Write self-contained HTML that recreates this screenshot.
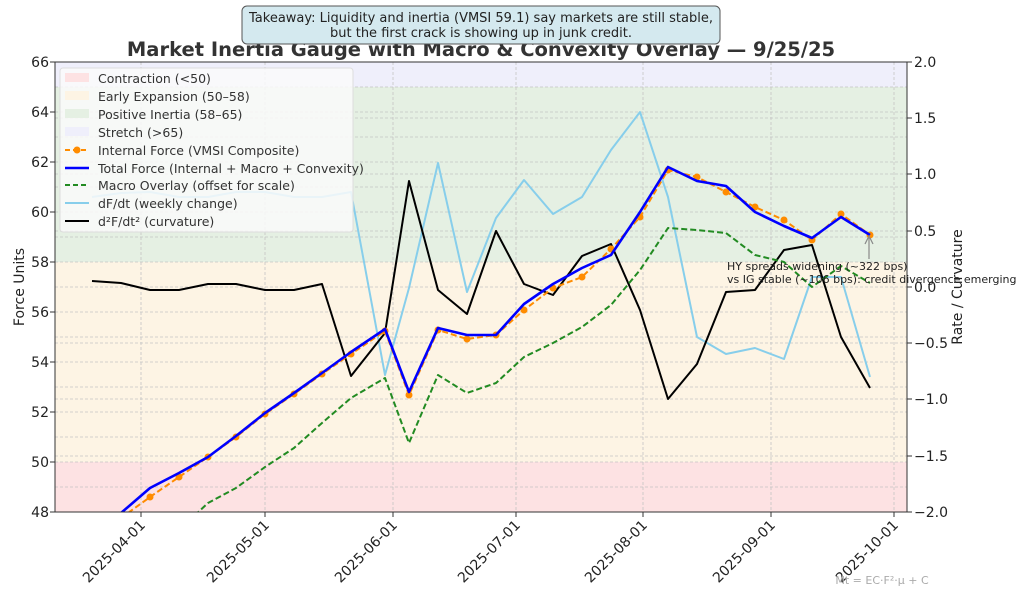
<!DOCTYPE html>
<html><head><meta charset="utf-8"><style>
body{margin:0;background:#fff;width:1024px;height:597px;overflow:hidden}
svg text{font-family:"DejaVu Sans","Liberation Sans",sans-serif}
</style></head><body>
<svg width="1024" height="597" viewBox="0 0 1024 597">
<defs><clipPath id="c"><rect x="55" y="62" width="852" height="450"/></clipPath></defs>
<rect x="55" y="62" width="852" height="25" fill="#efeffb"/>
<rect x="55" y="87" width="852" height="175" fill="#e5f0e3"/>
<rect x="55" y="262" width="852" height="200" fill="#fdf4e4"/>
<rect x="55" y="462" width="852" height="50" fill="#fde2e3"/>
<g stroke="#c4c4c4" stroke-width="0.8" stroke-dasharray="3,2" fill="none">
<path d="M55 87H907M55 112H907M55 137H907M55 162H907M55 187H907M55 212H907M55 237H907M55 262H907M55 287H907M55 312H907M55 337H907M55 362H907M55 387H907M55 412H907M55 437H907M55 462H907M55 487H907"/>
<path d="M55 118H907M55 174H907M55 231H907M55 343H907M55 399H907M55 456H907"/>
<path d="M141 62V512M265 62V512M393 62V512M516 62V512M643 62V512M771 62V512M894 62V512"/>
</g>
<g clip-path="url(#c)" fill="none" stroke-linejoin="round">
<polyline stroke="#87ceeb" stroke-width="2" points="92,197 121,193 150,192 179,197 208,197 236,192 265,192 294,197 322,197 351,192 385,375 409,288 438,163 467,292 496,218 524,180 553,214 582,197 611,150 640,112 668,197 697,337 726,354 755,348 784,359 812,277 841,277 870,377"/>
<polyline stroke="#000" stroke-width="2" points="92,281 121,283 150,290 179,290 208,284 236,284 265,290 294,290 322,284 351,376 385,333 409,181 438,290 467,314 496,231 524,284 553,295 582,256 611,244 640,310 668,399 697,364 726,292 755,290 784,250 812,245 841,337 870,388"/>
<polyline stroke="#228b22" stroke-width="2" stroke-dasharray="6,3" points="150,560 179,530 208,503 236,488 265,467 294,448 322,423 351,398 385,378 409,443 438,375 467,393 496,383 524,357 553,343 582,327 611,305 640,270 668,228 697,230 726,233 755,255 784,262 812,287 841,266 870,283"/>
<polyline stroke="#ff8c00" stroke-width="2" stroke-dasharray="6,3" points="92,540 121,518 150,497 179,477 208,457 236,437 265,414 294,394 322,374 351,354 385,331 409,395 438,330 467,339 496,335 524,310 553,288 582,277 611,249 640,217 668,170 697,177 726,192 755,207 784,220 812,240 841,214 870,235"/>
<g fill="#ff8c00" stroke="none">
<circle cx="150" cy="497" r="3.5"/><circle cx="179" cy="477" r="3.5"/><circle cx="208" cy="457" r="3.5"/><circle cx="236" cy="437" r="3.5"/><circle cx="265" cy="414" r="3.5"/><circle cx="294" cy="394" r="3.5"/><circle cx="322" cy="374" r="3.5"/><circle cx="351" cy="354" r="3.5"/><circle cx="385" cy="331" r="3.5"/><circle cx="409" cy="395" r="3.5"/><circle cx="438" cy="330" r="3.5"/><circle cx="467" cy="339" r="3.5"/><circle cx="496" cy="335" r="3.5"/><circle cx="524" cy="310" r="3.5"/><circle cx="553" cy="288" r="3.5"/><circle cx="582" cy="277" r="3.5"/><circle cx="611" cy="249" r="3.5"/><circle cx="640" cy="217" r="3.5"/><circle cx="668" cy="170" r="3.5"/><circle cx="697" cy="177" r="3.5"/><circle cx="726" cy="192" r="3.5"/><circle cx="755" cy="207" r="3.5"/><circle cx="784" cy="220" r="3.5"/><circle cx="812" cy="240" r="3.5"/><circle cx="841" cy="214" r="3.5"/><circle cx="870" cy="235" r="3.5"/>
</g>
<polyline stroke="#0000ff" stroke-width="2.6" points="92,535 121,513 150,488 179,473 208,457 236,436 265,413 294,393 322,373 351,352 385,329 409,392 438,328 467,335 496,335 524,304 553,284 582,268 611,255 640,212 668,167 697,181 726,186 755,212 784,226 812,238 841,217 870,235"/>
</g>
<rect x="55" y="62" width="852" height="450" fill="none" stroke="#333" stroke-width="1"/>
<g stroke="#333"><path d="M50 62H55M50 112H55M50 162H55M50 212H55M50 262H55M50 312H55M50 362H55M50 412H55M50 462H55M50 512H55"/>
<path d="M907 62H912M907 118H912M907 174H912M907 231H912M907 287H912M907 343H912M907 399H912M907 456H912M907 512H912"/>
<path d="M141 512V517M265 512V517M393 512V517M516 512V517M643 512V517M771 512V517M894 512V517"/></g>
<g font-size="14" fill="#222" text-anchor="end">
<text x="49" y="67">66</text><text x="49" y="117">64</text><text x="49" y="167">62</text><text x="49" y="217">60</text><text x="49" y="267">58</text><text x="49" y="317">56</text><text x="49" y="367">54</text><text x="49" y="417">52</text><text x="49" y="467">50</text><text x="49" y="517">48</text>
</g>
<g font-size="14" fill="#222">
<text x="914" y="67">2.0</text><text x="914" y="123">1.5</text><text x="914" y="179">1.0</text><text x="914" y="236">0.5</text><text x="914" y="292">0.0</text><text x="914" y="348">−0.5</text><text x="914" y="404">−1.0</text><text x="914" y="461">−1.5</text><text x="914" y="517">−2.0</text>
</g>
<g font-size="14" fill="#222" text-anchor="end">
<text transform="translate(146,526) rotate(-45)">2025-04-01</text>
<text transform="translate(270,526) rotate(-45)">2025-05-01</text>
<text transform="translate(398,526) rotate(-45)">2025-06-01</text>
<text transform="translate(521,526) rotate(-45)">2025-07-01</text>
<text transform="translate(648,526) rotate(-45)">2025-08-01</text>
<text transform="translate(776,526) rotate(-45)">2025-09-01</text>
<text transform="translate(899,526) rotate(-45)">2025-10-01</text>
</g>
<text transform="translate(24,287) rotate(-90)" font-size="14" fill="#222" text-anchor="middle">Force Units</text>
<text transform="translate(962,287) rotate(-90)" font-size="14" fill="#222" text-anchor="middle">Rate / Curvature</text>
<text x="481" y="56" font-size="19.5" font-weight="bold" fill="#333" text-anchor="middle">Market Inertia Gauge with Macro &amp; Convexity Overlay — 9/25/25</text>
<rect x="242" y="6" width="478" height="38" rx="5" fill="#d4e9ef" stroke="#555" stroke-width="1"/>
<text x="481" y="22" font-size="13" fill="#222" text-anchor="middle">Takeaway: Liquidity and inertia (VMSI 59.1) say markets are still stable,</text>
<text x="481" y="37" font-size="13" fill="#222" text-anchor="middle">but the first crack is showing up in junk credit.</text>
<rect x="60" y="68" width="293" height="164" rx="3" fill="#fafafa" fill-opacity="0.85" stroke="#ddd"/>
<g font-size="12.5" fill="#333">
<rect x="65" y="73" width="24" height="9" fill="#fde2e3"/><text x="98" y="83">Contraction (&lt;50)</text>
<rect x="65" y="91" width="24" height="9" fill="#fdf4e4"/><text x="98" y="101">Early Expansion (50–58)</text>
<rect x="65" y="109" width="24" height="9" fill="#e5f0e3"/><text x="98" y="119">Positive Inertia (58–65)</text>
<rect x="65" y="127" width="24" height="9" fill="#efeffb"/><text x="98" y="137">Stretch (&gt;65)</text>
<line x1="65" y1="150" x2="89" y2="150" stroke="#ff8c00" stroke-width="2" stroke-dasharray="5,3"/><circle cx="77" cy="150" r="3.5" fill="#ff8c00"/><text x="98" y="155">Internal Force (VMSI Composite)</text>
<line x1="65" y1="168" x2="89" y2="168" stroke="#0000ff" stroke-width="2.6"/><text x="98" y="173">Total Force (Internal + Macro + Convexity)</text>
<line x1="65" y1="185" x2="89" y2="185" stroke="#228b22" stroke-width="2" stroke-dasharray="5,3"/><text x="98" y="190">Macro Overlay (offset for scale)</text>
<line x1="65" y1="203" x2="89" y2="203" stroke="#87ceeb" stroke-width="2"/><text x="98" y="208">dF/dt (weekly change)</text>
<line x1="65" y1="221" x2="89" y2="221" stroke="#000" stroke-width="2"/><text x="98" y="226">d²F/dt² (curvature)</text>
</g>
<line x1="869" y1="259" x2="869" y2="238" stroke="#888" stroke-width="1.2"/>
<path d="M865 244 L869 236 L873 244" fill="none" stroke="#888" stroke-width="1.2"/>
<text x="727" y="270" font-size="11" fill="#222">HY spreads widening (~322 bps)</text>
<text x="727" y="283" font-size="11" fill="#222">vs IG stable (~106 bps): credit divergence emerging</text>
<text x="882" y="584" font-size="11" fill="#aaa" text-anchor="middle">Mt = EC·F²·μ + C</text>
</svg>
</body></html>
